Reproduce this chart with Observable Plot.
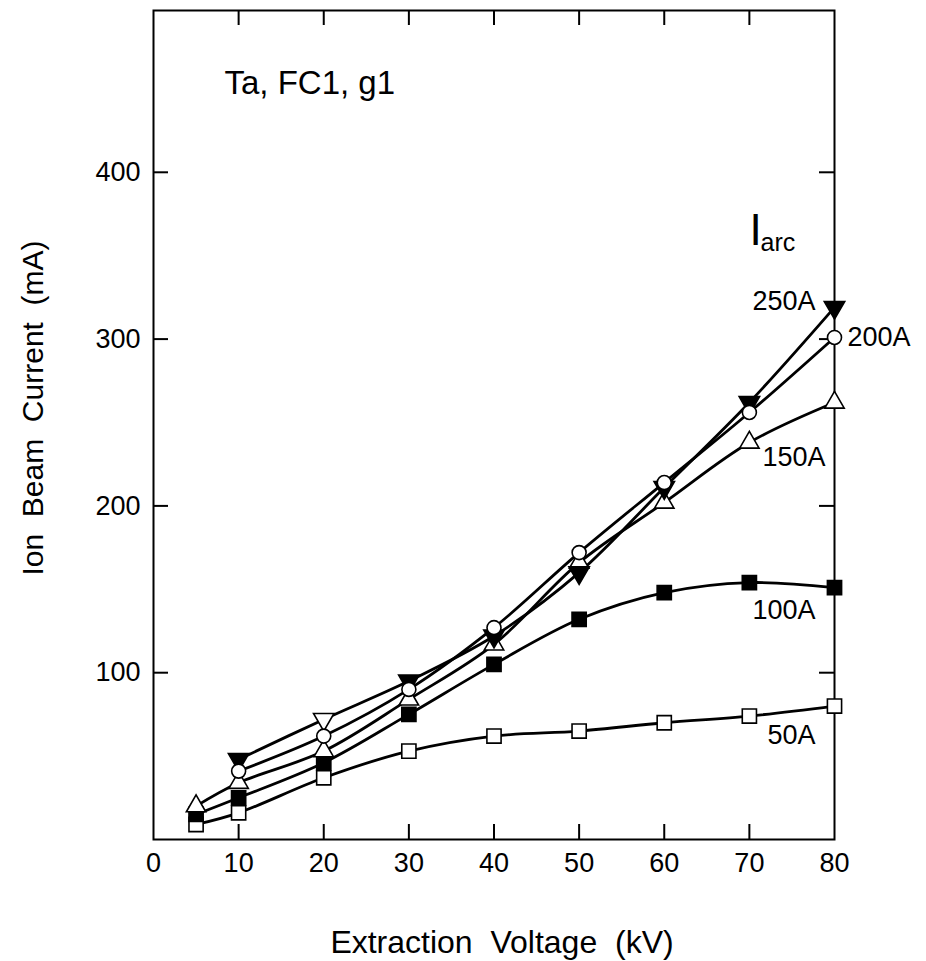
<!DOCTYPE html>
<html>
<head>
<meta charset="utf-8">
<script src="https://cdn.jsdelivr.net/npm/d3@7"></script>
<script src="https://cdn.jsdelivr.net/npm/@observablehq/plot@0.6"></script>
<style>
  html, body { margin: 0; padding: 0; background: #fff; }
  #chart { width: 926px; height: 961px; }
</style>
</head>
<body>
<div id="chart"></div>
<script>
// ---- data ----
const voltsFrom5 = [5, 10, 20, 30, 40, 50, 60, 70, 80];
const voltsFrom10 = [10, 20, 30, 40, 50, 60, 70, 80];
const current50A  = [9, 16, 37, 53, 62, 65, 70, 74, 80];
const current100A = [15, 25, 46, 75, 105, 132, 148, 154, 151];
const current150A = [20, 34, 53, 84, 117, 166, 202, 238, 262];
const current200A = [41, 62, 90, 127, 172, 214, 256, 301];
const current250A = [48, 72, 95, 122, 160, 211, 262, 319];
const seriesNames = ["50A", "100A", "150A", "200A", "250A"];
const xTickValues = [0, 10, 20, 30, 40, 50, 60, 70, 80];
const xInnerTicks = [10, 20, 30, 40, 50, 60, 70];
const yTickValues = [100, 200, 300, 400];
const panelNote = "Ta, FC1, g1";
const legendSymbol = "I";
const legendSub = "arc";
const xTitle = "Extraction  Voltage  (kV)";
const yTitle = "Ion  Beam  Current  (mA)";

const seriesX = [voltsFrom5, voltsFrom5, voltsFrom5, voltsFrom10, voltsFrom10];
const seriesY = [current50A, current100A, current150A, current200A, current250A];
const rows = seriesNames.flatMap((s, k) => seriesX[k].map((v, j) => ({series: s, v, i: seriesY[k][j]})));
const of = s => rows.filter(d => d.series === s);
const at = (s, v) => rows.filter(d => d.series === s && d.v === v);

const W = 926, H = 961;
const mL = 153, mR = 92, mT = 10, mB = 122;
const fw = W - mL - mR, fh = H - mT - mB;
const tl = 15;

const plot = Plot.plot({
  width: W, height: H,
  marginLeft: mL, marginRight: mR, marginTop: mT, marginBottom: mB,
  x: {domain: [0, 80]},
  y: {domain: [0, 497]},
  style: {fontFamily: "'Liberation Sans', Arial, sans-serif", fontSize: "27px", color: "black", background: "white"},
  marks: [
    Plot.frame({stroke: "black", strokeWidth: 2}),
    // inward ticks on all four sides
    Plot.tickX(xInnerTicks, {x: d => d, insetTop: fh - tl, stroke: "black", strokeWidth: 2}),
    Plot.tickX(xInnerTicks, {x: d => d, insetBottom: fh - tl, stroke: "black", strokeWidth: 2}),
    Plot.tickY(yTickValues, {y: d => d, insetRight: fw - tl, stroke: "black", strokeWidth: 2}),
    Plot.tickY(yTickValues, {y: d => d, insetLeft: fw - tl, stroke: "black", strokeWidth: 2}),
    Plot.axisX({ticks: xTickValues, tickSize: 0, tickPadding: 13, label: null, fontSize: 27}),
    Plot.axisY({ticks: yTickValues, tickSize: 0, tickPadding: 13, label: null, fontSize: 27}),
    // curves
    Plot.line(rows, {x: "v", y: "i", z: "series", curve: "catmull-rom", stroke: "black", strokeWidth: 2.8}),
    // markers
    Plot.dot(of("50A"), {x: "v", y: "i", symbol: "square", r: 8, fill: "white", stroke: "black", strokeWidth: 1.6}),
    Plot.dot(of("100A"), {x: "v", y: "i", symbol: "square", r: 8, fill: "black", stroke: "black", strokeWidth: 1.6}),
    Plot.dot(of("150A"), {x: "v", y: "i", symbol: "triangle", r: 7.2, fill: "white", stroke: "black", strokeWidth: 1.6}),
    Plot.dot(of("250A"), {x: "v", y: "i", symbol: "triangle", rotate: 180, r: 7.6, fill: d => d.v === 20 ? "white" : "black", stroke: "black", strokeWidth: 1.6}),
    Plot.dot(of("200A"), {x: "v", y: "i", symbol: "circle", r: 7, fill: "white", stroke: "black", strokeWidth: 1.6}),
    // series labels
    Plot.text(at("250A", 80), {x: "v", y: "i", text: "series", textAnchor: "end", dx: -19, dy: -6, fontSize: 27}),
    Plot.text(at("200A", 80), {x: "v", y: "i", text: "series", textAnchor: "start", dx: 13, dy: 0, fontSize: 27}),
    Plot.text(at("150A", 70), {x: "v", y: "i", text: "series", textAnchor: "start", dx: 13, dy: 15, fontSize: 27}),
    Plot.text(at("100A", 80), {x: "v", y: "i", text: "series", textAnchor: "end", dx: -19, dy: 23, fontSize: 27}),
    Plot.text(at("50A", 80), {x: "v", y: "i", text: "series", textAnchor: "end", dx: -19, dy: 29, fontSize: 27}),
    // legend heading I_arc
    Plot.text([legendSymbol], {frameAnchor: "top-left", textAnchor: "start", lineAnchor: "middle", dx: 596, dy: 220, fontSize: 44}),
    Plot.text([legendSub], {frameAnchor: "top-left", textAnchor: "start", lineAnchor: "middle", dx: 607, dy: 232, fontSize: 25}),
    // panel note
    Plot.text([panelNote], {frameAnchor: "top-left", textAnchor: "start", lineAnchor: "middle", dx: 71, dy: 73, fontSize: 33}),
    // axis titles
    Plot.text([xTitle], {frameAnchor: "bottom", textAnchor: "middle", lineAnchor: "middle", dx: 8, dy: 103, fontSize: 32}),
    Plot.text([yTitle], {frameAnchor: "left", textAnchor: "middle", lineAnchor: "middle", rotate: -90, dx: -120, dy: -17, fontSize: 30})
  ]
});
document.getElementById("chart").appendChild(plot);
</script>
</body>
</html>
